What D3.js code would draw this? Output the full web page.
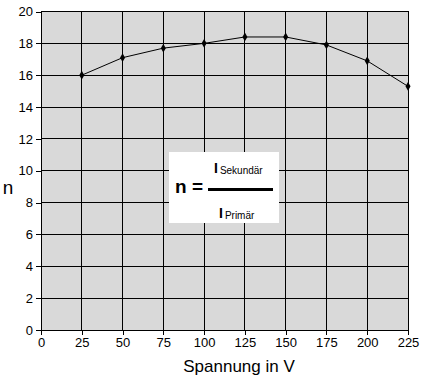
<!DOCTYPE html>
<html><head><meta charset="utf-8">
<script src="https://cdn.jsdelivr.net/npm/d3@7"></script>
<style>body{margin:0;background:#fff}svg{display:block}</style>
</head><body>
<svg id="c" width="427" height="381"></svg>
<script>
const voltages = [25, 50, 75, 100, 125, 150, 175, 200, 225];
const nValues = [16.0, 17.1, 17.7, 18.0, 18.4, 18.4, 17.9, 16.9, 15.3];
const xTicks = [0, 25, 50, 75, 100, 125, 150, 175, 200, 225];
const yTicks = [0, 2, 4, 6, 8, 10, 12, 14, 16, 18, 20];

const svg = d3.select("#c");
const font = "Liberation Sans, Arial, sans-serif";
const x = d3.scaleLinear().domain([0, 225]).range([41, 408]);
const y = d3.scaleLinear().domain([0, 20]).range([330, 11.5]);

svg.append("rect").attr("x", x(0)).attr("y", y(20))
  .attr("width", x(225) - x(0)).attr("height", y(0) - y(20))
  .attr("fill", "#d9d9d9").attr("stroke", "#000").attr("stroke-width", 1)
  .attr("shape-rendering", "crispEdges");

const g = svg.append("g").attr("shape-rendering", "crispEdges");
g.selectAll("line.v").data(xTicks.slice(1)).join("line")
  .attr("x1", d => x(d)).attr("x2", d => x(d)).attr("y1", y(0)).attr("y2", y(20))
  .attr("stroke", "#000").attr("stroke-width", 1);
g.selectAll("line.h").data(yTicks.slice(1)).join("line")
  .attr("y1", d => y(d)).attr("y2", d => y(d)).attr("x1", x(0)).attr("x2", x(225))
  .attr("stroke", "#000").attr("stroke-width", 1);

const xAxis = svg.append("g").attr("transform", `translate(0,${y(0)})`)
  .call(d3.axisBottom(x).tickValues(xTicks).tickSize(5).tickPadding(3));
const yAxis = svg.append("g").attr("transform", `translate(${x(0)},0)`)
  .call(d3.axisLeft(y).tickValues(yTicks).tickSize(5).tickPadding(3));
[xAxis, yAxis].forEach(a => {
  a.attr("shape-rendering", "crispEdges");
  a.select(".domain").attr("stroke", "#000").attr("stroke-width", 1);
  a.selectAll(".tick line").attr("stroke", "#000").attr("stroke-width", 1);
  a.selectAll("text").attr("font-family", font).attr("font-size", 13).attr("fill", "#000");
});

const line = d3.line().x((d, i) => x(voltages[i])).y(d => y(d));
svg.append("path").datum(nValues).attr("d", line)
  .attr("fill", "none").attr("stroke", "#000").attr("stroke-width", 1);
svg.selectAll("path.pt").data(nValues).join("path")
  .attr("transform", (d, i) => `translate(${x(voltages[i])},${y(d)})`)
  .attr("d", d3.symbol(d3.symbolDiamond, 22)).attr("fill", "#000");

svg.append("text").attr("x", 8).attr("y", 194).attr("text-anchor", "middle")
  .attr("font-family", font).attr("font-size", 19).text("n");
svg.append("text").attr("x", 239).attr("y", 372).attr("text-anchor", "middle")
  .attr("font-family", font).attr("font-size", 17).text("Spannung in V");

// formula box
const fb = svg.append("g");
fb.append("rect").attr("x", 169).attr("y", 152).attr("width", 110).attr("height", 71).attr("fill", "#fff");
fb.append("text").attr("x", 175).attr("y", 193).attr("font-family", font)
  .attr("font-weight", "bold").attr("font-size", 19).text("n =");
fb.append("rect").attr("x", 208).attr("y", 188).attr("width", 65).attr("height", 3).attr("fill", "#000");
const t1 = fb.append("text").attr("x", 214).attr("y", 173).attr("font-family", font).attr("font-size", 14).attr("font-weight", "bold");
t1.append("tspan").text("I");
t1.append("tspan").attr("font-size", 10).attr("font-weight", "normal").attr("dx", 2).attr("dy", 1).text("Sekundär");
const t2 = fb.append("text").attr("x", 219).attr("y", 218).attr("font-family", font).attr("font-size", 14).attr("font-weight", "bold");
t2.append("tspan").text("I");
t2.append("tspan").attr("font-size", 10).attr("font-weight", "normal").attr("dx", 2).attr("dy", 1).text("Primär");
</script>
</body></html>
